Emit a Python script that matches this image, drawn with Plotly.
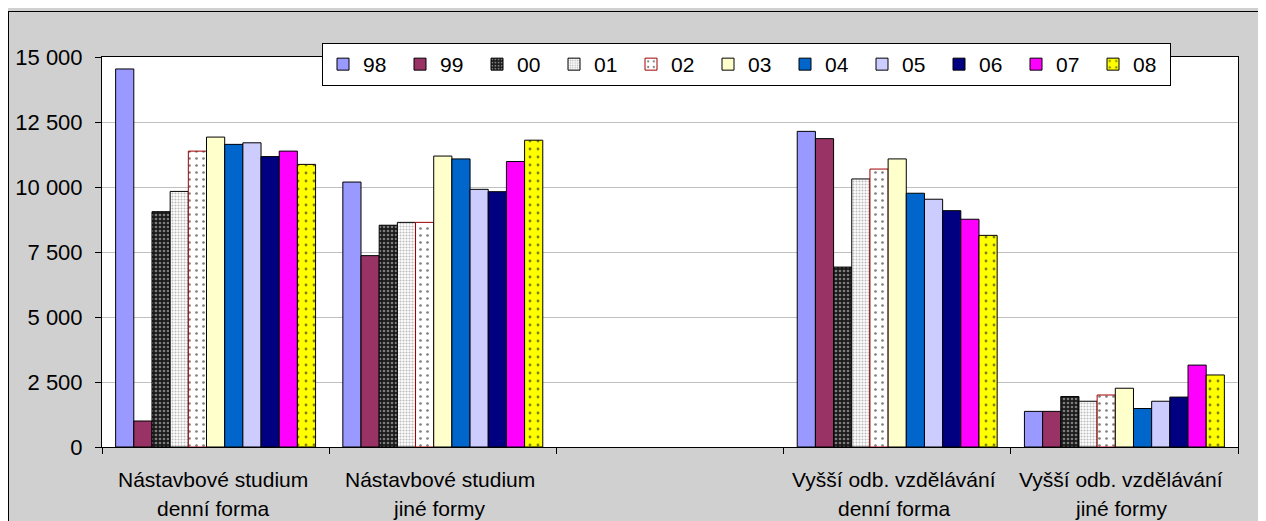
import plotly.graph_objects as go

categories = ["Nástavbové studium|denní forma", "Nástavbové studium|jiné formy", " ",
              "Vyšší odb. vzdělávání|denní forma", "Vyšší odb. vzdělávání|jiné formy"]
years = ["98", "99", "00", "01", "02", "03", "04", "05", "06", "07", "08"]

# values per year, one per category (middle category empty)
v98 = [14540, 10190, None, 12140, 1370]
v99 = [1000, 7360, None, 11860, 1370]
v00 = [9050, 8530, None, 6920, 1940]
v01 = [9830, 8640, None, 10310, 1760]
v02 = [11380, 8640, None, 10690, 2000]
v03 = [11920, 11190, None, 11080, 2260]
v04 = [11640, 11080, None, 9760, 1480]
v05 = [11700, 9910, None, 9530, 1760]
v06 = [11170, 9820, None, 9090, 1920]
v07 = [11380, 10980, None, 8760, 3150]
v08 = [10870, 11800, None, 8140, 2770]
values = [v98, v99, v00, v01, v02, v03, v04, v05, v06, v07, v08]

styles = {
    "98": dict(color="#9999FF"),
    "99": dict(color="#993366"),
    "00": dict(color="#1a1a1a", pattern=dict(shape=".", fgcolor="#dddddd", size=4, solidity=0.35)),
    "01": dict(color="#ffffff", pattern=dict(shape=".", fgcolor="#777777", size=3, solidity=0.4)),
    "02": dict(color="#ffffff", pattern=dict(shape=".", fgcolor="#000000", size=7, solidity=0.12),
               line=dict(color="#A00000", width=1)),
    "03": dict(color="#FFFFCC"),
    "04": dict(color="#0066CC"),
    "05": dict(color="#CCCCFF"),
    "06": dict(color="#000080"),
    "07": dict(color="#FF00FF"),
    "08": dict(color="#FFFF00", pattern=dict(shape=".", fgcolor="#000000", size=8, solidity=0.1)),
}

fig = go.Figure()
for yr, vals in zip(years, values):
    st = styles[yr]
    marker = dict(color=st["color"], line=st.get("line", dict(color="#000000", width=1)))
    if "pattern" in st:
        marker["pattern"] = dict(st["pattern"], fillmode="overlay")
    fig.add_trace(go.Bar(name=yr, x=categories, y=vals, marker=marker))

# figure pixel geometry (page has an 8px body margin)
FW, FH = 1258, 513
L, T, W, H = 94, 49, 1136, 390
def px(x):
    return (x - L) / W
def py(y):
    return (T + H - y) / H

shapes = [
    dict(type="line", xref="paper", yref="paper", x0=px(0.5), x1=px(0.5),
         y0=py(3), y1=py(FH + 5), line=dict(color="black", width=1)),
    dict(type="line", xref="paper", yref="paper", x0=px(0), x1=px(FW + 5),
         y0=py(3.5), y1=py(3.5), line=dict(color="black", width=1)),
]

annotations = []
for cat in categories:
    if "|" not in cat:
        continue
    l1, l2 = cat.split("|")
    annotations.append(dict(x=cat, y=py(471), xref="x", yref="paper", text=l1, showarrow=False,
                            font=dict(size=21, color="black"), yanchor="middle", xshift=-3))
    annotations.append(dict(x=cat, y=py(501), xref="x", yref="paper", text=l2, showarrow=False,
                            font=dict(size=21, color="black"), yanchor="middle", xshift=-3))

fig.update_layout(
    width=FW, height=FH,
    margin=dict(l=L, r=FW - L - W, t=T, b=FH - T - H, autoexpand=False),
    barmode="group", bargap=0.12, bargroupgap=0,
    paper_bgcolor="#d0d0d0", plot_bgcolor="white",
    font=dict(family="Arial, Liberation Sans, sans-serif", size=21, color="black"),
    separators=", ",
    shapes=shapes, annotations=annotations,
    legend=dict(orientation="h", x=px(314), y=py(35), xanchor="left", yanchor="top",
                bgcolor="white", bordercolor="black", borderwidth=1,
                font=dict(size=21), entrywidth=32, entrywidthmode="pixels",
                itemclick=False),
    showlegend=True,
)
fig.update_xaxes(showticklabels=False, showline=True, linecolor="black", linewidth=1,
                 mirror=True, ticks="outside", ticklen=6, tickcolor="black",
                 tickson="boundaries", showgrid=False)
fig.update_yaxes(range=[0, 15000], dtick=2500, tickformat=",d", showline=True,
                 linecolor="black", linewidth=1, mirror=True, ticks="outside",
                 ticklen=6, tickcolor="black", showgrid=True, gridcolor="#c0c0c0",
                 gridwidth=1, zeroline=False, ticklabelstandoff=8,
                 tickfont=dict(size=22))

fig.write_html("out.html")
